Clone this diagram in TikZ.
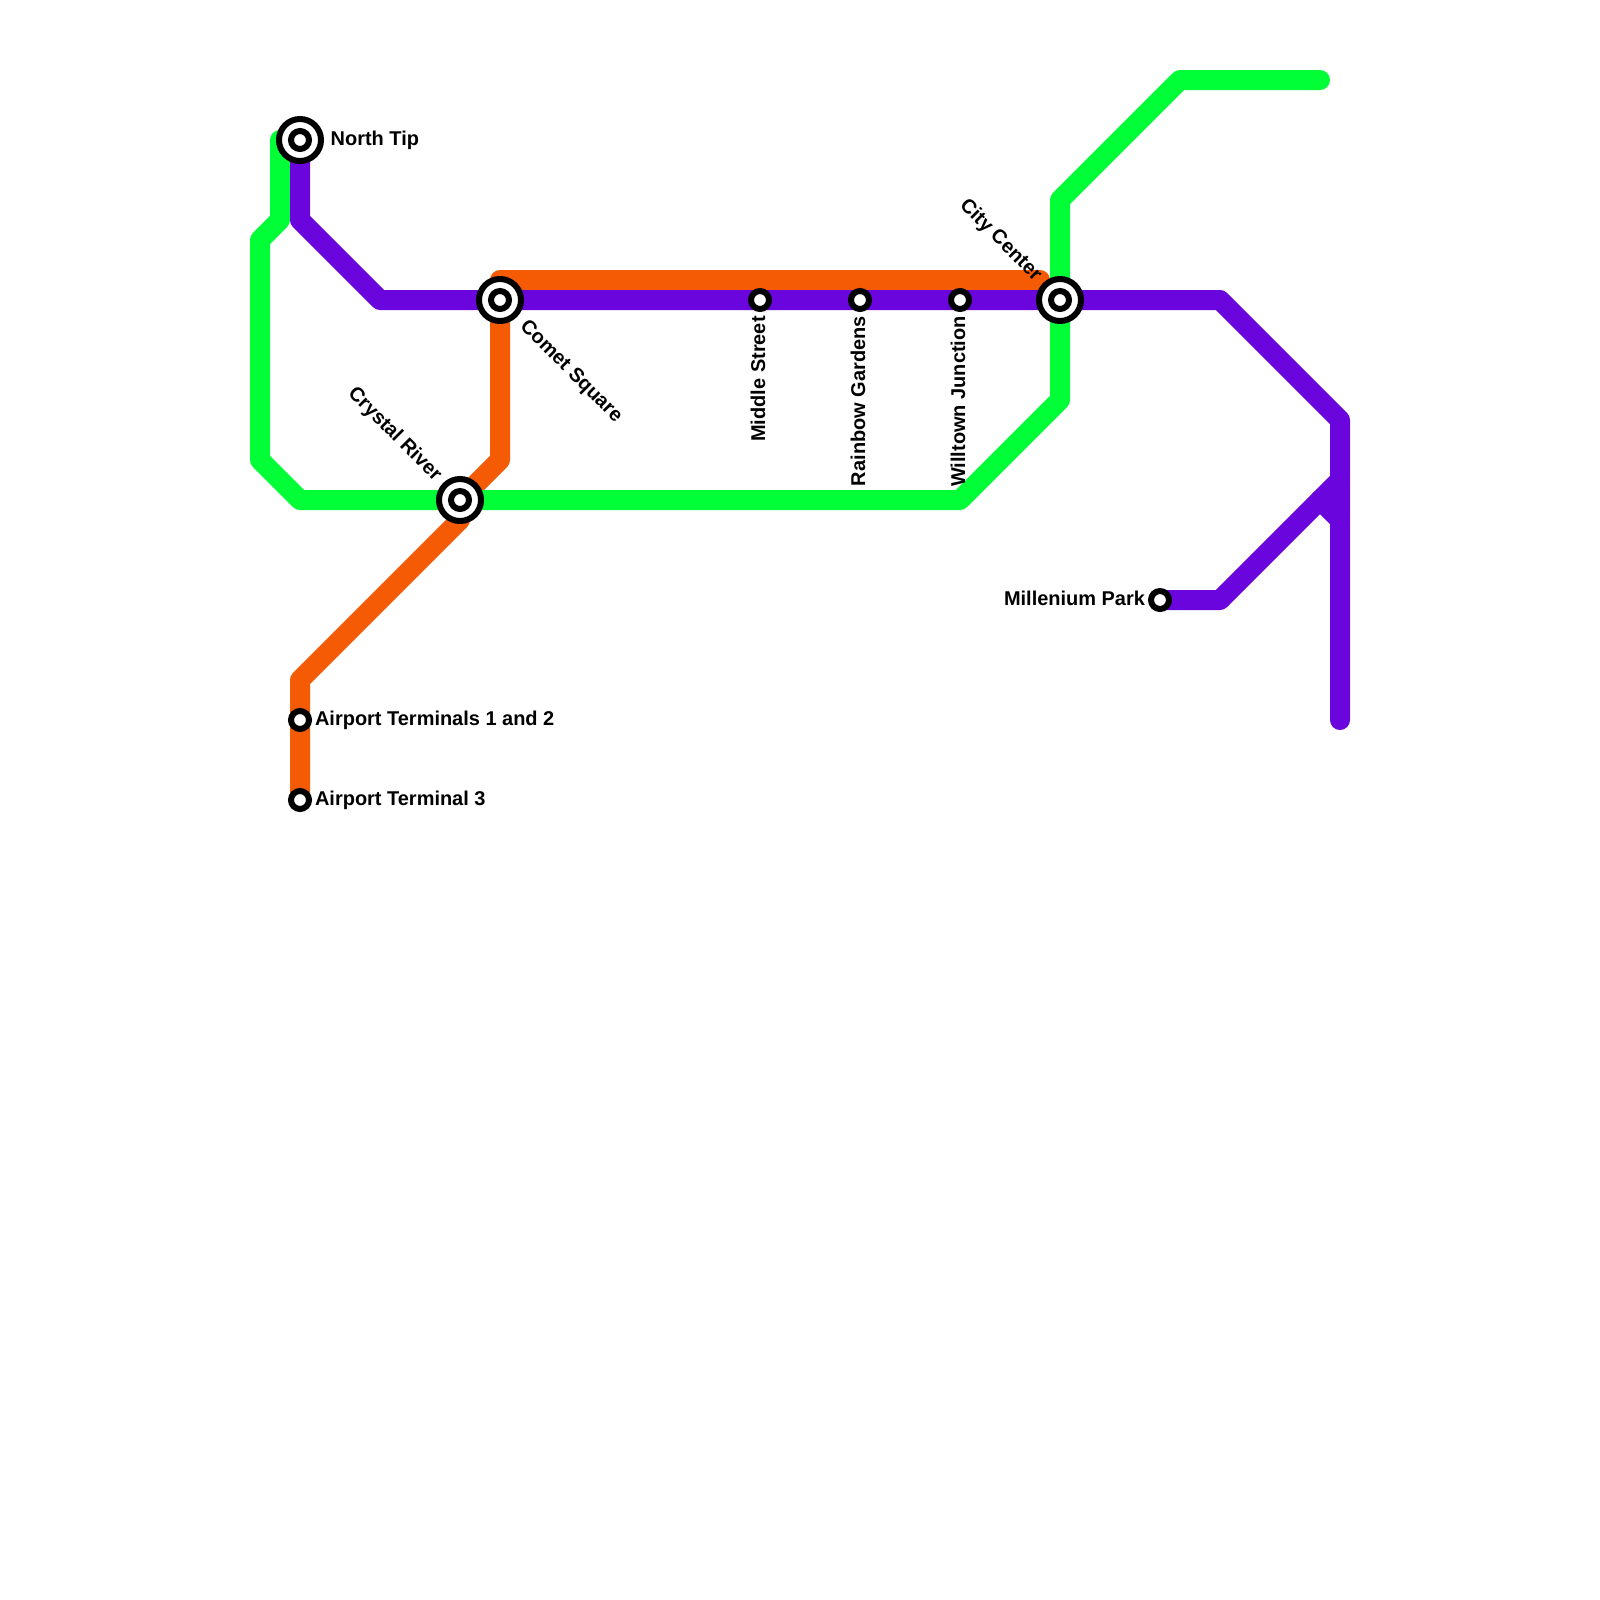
\documentclass[tikz,border=0pt]{standalone}
\usepackage{fontspec}
\setmainfont{Liberation Sans}
\usepackage{xcolor}
\definecolor{greenLine}{HTML}{00FF37}
\definecolor{purpleLine}{HTML}{6A06DD}
\definecolor{orangeLine}{HTML}{F55A05}
\usepackage{tikz}
\usetikzlibrary{positioning,backgrounds}
\tikzset{
  hubStation/.style={
    circle,
    draw=black,
    fill=white,
    line width=1.5mm,
    inner sep=0pt,
    minimum size=10.5mm
 },
  smallStation/.style={
    circle,
    draw=black,
    fill=white,
    line width=1.5mm,
    inner sep=0pt,
    minimum size=4.5mm
 },
  stationLabel/.style={
    font=\fontsize{14.2}{17}\selectfont\bfseries,
    text height=3.65mm,
    text depth=1.05mm,
    inner sep=0pt
 },
  metroLine/.style={
    line width=5mm,
    line cap=round,
    line join=round
 }
}

\begin{document}
\begin{tikzpicture}[x=0.5cm,y=-0.5cm]

            \useasboundingbox (0,0) rectangle (80,80);

            % Interchanges
            \node[hubStation] (northTip) at (15,7) {};
            \node[smallStation] (northTipIn) at (northTip) {};
            \node[hubStation] (comet) at (25,15) {};
            \node[smallStation] (cometIn) at (comet) {};
            \node[hubStation] (crystal) at (23,25) {};
            \node[smallStation] (crystalIn) at (crystal) {};
            \node[hubStation] (city) at (53,15) {};
            \node[smallStation] (cityIn) at (city) {};

            % Plain stops
            \node[smallStation] (middle) at (38,15) {};
            \node[smallStation] (rainbow) at (43,15) {};
            \node[smallStation] (willtown) at (48,15) {};
            \node[smallStation] (millenium) at (58,30) {};
            \node[smallStation] (airportA) at (15,36) {};
            \node[smallStation] (airportB) at (15,40) {};

            % Labels
            \node[stationLabel, right=1.6mm of northTip] (northTipLabel) {North Tip};
            \node[stationLabel, below right=1.6mm and 1.5mm of comet, anchor=west, rotate=-45] (cometLabel) {Comet Square};
            \node[stationLabel, above left=1.2mm and 1.2mm of crystal, anchor=east, rotate=-45] (crystalLabel) {Crystal River};
            \node[stationLabel, above left=1.2mm and 1.2mm of city, anchor=east, rotate=-45] (cityLabel) {City Center};
            \node[stationLabel, below=1mm of middle, anchor=east, rotate=90] (middleLabel) {Middle Street};
            \node[stationLabel, below=1mm of rainbow, anchor=east, rotate=90] (rainbowLabel) {Rainbow Gardens};
            \node[stationLabel, below=1mm of willtown, anchor=east, rotate=90] (willtownLabel) {Willtown Junction};
            \node[stationLabel, left=0.7mm of millenium] (milleniumLabel) {Millenium Park};
            \node[stationLabel, right=0.7mm of airportA] (airportALabel) {Airport Terminals 1 and 2};
            \node[stationLabel, right=0.7mm of airportB] (airportBLabel) {Airport Terminal 3};

            % Bends
            \coordinate (greenEnd) at (66,4);
            \coordinate (greenA) at (59,4);
            \coordinate (greenB) at (53,10);
            \coordinate (greenC) at (53,20);
            \coordinate (greenD) at (48,25);
            \coordinate (greenE) at (15,25);
            \coordinate (greenF) at (13,23);
            \coordinate (greenG) at (13,12);
            \coordinate (greenH) at (14,11);
            \coordinate (greenTop) at (14,7);
            \coordinate (purpleA) at (15,11);
            \coordinate (purpleB) at (19,15);
            \coordinate (purpleC) at (61,15);
            \coordinate (purpleD) at (67,21);
            \coordinate (purpleEnd) at (67,36);
            \coordinate (branchA) at (61,30);
            \coordinate (branchB) at (66,25);
            \coordinate (branchTop) at (67,24);
            \coordinate (branchEnd) at (67,26);
            \coordinate (orangeA) at (15,34);
            \coordinate (orangeB) at (23,26);
            \coordinate (orangeC) at (25,23);
            \coordinate (orangeD) at (25,14);
            \coordinate (orangeEnd) at (52,14);

            \begin{scope}[on background layer]
                % Orange line
                \draw[metroLine, orangeLine] (airportB.center) -- (airportA.center) -- (orangeA) -- (orangeB) -- (crystal.center) -- (orangeC) -- (orangeD) -- (orangeEnd);
                % Green line
                \draw[metroLine, greenLine] (greenEnd) -- (greenA) -- (greenB) -- (greenC) -- (greenD) -- (greenE) -- (greenF) -- (greenG) -- (greenH) -- (greenTop);
                % Purple line
                \draw[metroLine, purpleLine] (northTip.center) -- (purpleA) -- (purpleB) -- (purpleC) -- (purpleD) -- (purpleEnd);
                \draw[metroLine, purpleLine] (millenium.center) -- (branchA) -- (branchTop);
                \draw[metroLine, purpleLine] (branchB) -- (branchEnd);
            \end{scope}

        \end{tikzpicture}
\end{document}
